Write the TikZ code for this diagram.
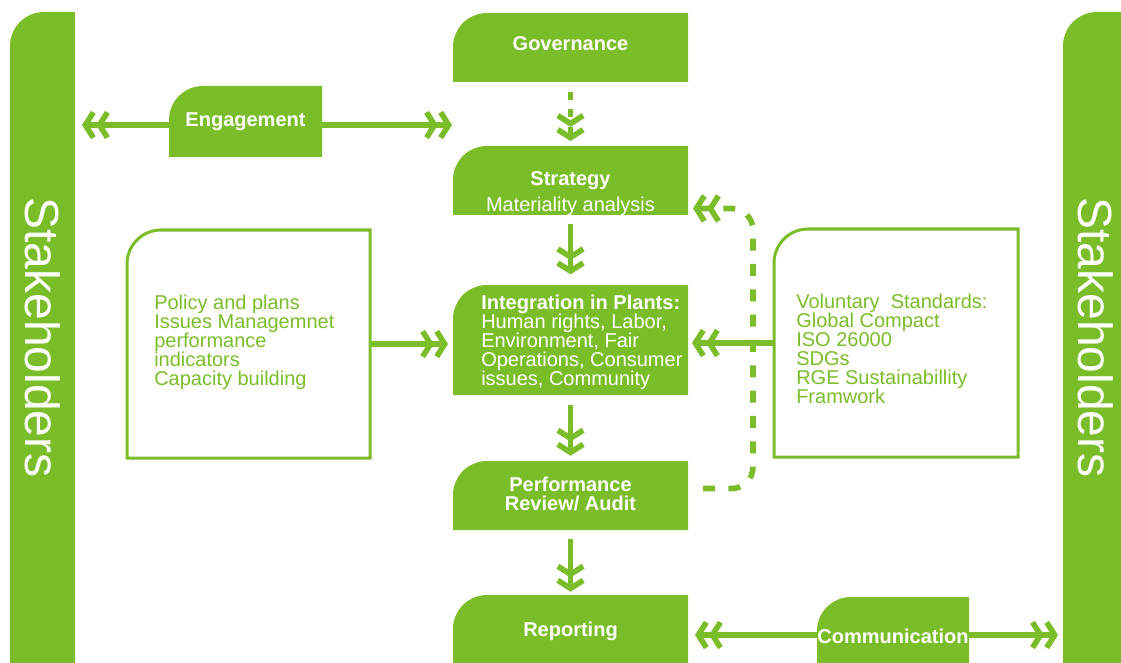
\documentclass[tikz,border=0pt]{standalone}
\usepackage{fontspec}
\setmainfont{Liberation Sans}
\usetikzlibrary{arrows.meta,fit,backgrounds}
\definecolor{leaf}{RGB}{123,189,41}
\tikzset{
	area/.style={inner sep=0pt, outer sep=0pt},
	wtext/.style={text=white, inner sep=0pt, align=center, font=\fontsize{15}{14.25}\selectfont},
	wbold/.style={wtext, font=\fontsize{15}{14.25}\selectfont\bfseries},
	gtext/.style={text=leaf, inner sep=0pt, align=left, anchor=west, font=\fontsize{15}{14.25}\selectfont},
	side/.style={text=white, inner sep=0pt, rotate=-90, font=\fontsize{36}{36}\selectfont},
	link/.style={leaf, line width=4.2pt},
	dbl/.style={-{Straight Barb[length=6pt,width=19pt]Straight Barb[length=6pt,width=19pt]}},
	dots/.style={dash pattern=on 6pt off 7pt},
}
\begin{document}
\begin{tikzpicture}[x=0.75pt, y=-0.75pt]
	\useasboundingbox (0,0) rectangle (1121,663);
	% areas
	\node[area, fit={(10,12) (75,663)}] (lsh) {};
	\node[area, fit={(1063,12) (1121,663)}] (rsh) {};
	\node[area, fit={(453,13) (688,82)}] (gov) {};
	\node[area, fit={(169,86) (322,157)}] (eng) {};
	\node[area, fit={(453,146) (688,215)}] (str) {};
	\node[area, fit={(453,285) (688,395)}] (int) {};
	\node[area, fit={(453,461) (688,530)}] (per) {};
	\node[area, fit={(453,595) (688,663)}] (rep) {};
	\node[area, fit={(817,597) (969,663)}] (com) {};
	\node[area, fit={(127,230) (370,458)}] (pol) {};
	\node[area, fit={(774,229) (1018,457)}] (vol) {};
	\begin{scope}[on background layer]
		\foreach \b in {lsh,rsh,gov,eng,str,int,per,rep,com}
			\fill[leaf] (\b.south west) -- ([yshift=-25.5pt]\b.north west) arc[start angle=180, end angle=270, radius=34] -- (\b.north east) -- (\b.south east) -- cycle;
		\foreach \b in {pol,vol}
			\draw[leaf, line width=2.25pt, fill=white] (\b.south west) -- ([yshift=-25.5pt]\b.north west) arc[start angle=180, end angle=270, radius=34] -- (\b.north east) -- (\b.south east) -- cycle;
	\end{scope}
	% texts
	\node[side] (lshtxt) at (lsh.center) {Stakeholders};
	\node[side] (rshtxt) at ([xshift=3pt]rsh.center) {Stakeholders};
	\node[wbold] (govtxt) at ([yshift=3pt]gov.center) {Governance};
	\node[wbold] (engtxt) at (eng.center) {Engagement};
	\node[wtext] (strtxt) at ([yshift=-10pt]str.center) {\textbf{Strategy}\\[5.25pt]Materiality analysis};
	\node[wtext, align=left, anchor=west] (inttxt) at ([xshift=21pt, yshift=-1.4pt]int.west) {\textbf{Integration in Plants:}\\Human rights, Labor,\\Environment, Fair\\Operations, Consumer\\issues, Community};
	\node[wbold] (pertxt) at ([yshift=0.8pt]per.center) {Performance\\Review/ Audit};
	\node[wbold] (reptxt) at ([yshift=-2pt]rep.center) {Reporting};
	\node[wbold] (comtxt) at ([yshift=-4.5pt]com.center) {Communication};
	\node[gtext] (poltxt) at ([xshift=20.25pt, yshift=1.6pt]pol.west) {Policy and plans\\Issues Managemnet\\performance\\indicators\\Capacity building};
	\node[gtext] (voltxt) at ([xshift=16.5pt, yshift=-4.5pt]vol.west) {Voluntary~ Standards:\\Global Compact\\ISO 26000\\SDGs\\RGE Sustainabillity\\Framwork};
	% links
	\coordinate (engL) at (82,125);
	\coordinate (engR) at (452,125);
	\draw[link, dbl] (engL -| eng.west) -- (engL);
	\draw[link, dbl] (engR -| eng.east) -- (engR);
	\draw[link, dbl, dots, shorten <=7.5pt, shorten >=3.75pt] (gov) -- (str);
	\draw[link, dbl, shorten <=6.75pt, shorten >=8pt] (str) -- (int);
	\draw[link, dbl, shorten <=7.5pt, shorten >=4pt] (int) -- (per);
	\draw[link, dbl, shorten <=6.75pt, shorten >=2.5pt] (per) -- (rep);
	\draw[link, dbl, shorten >=3.75pt] (pol.east) -- (pol.east -| int.west);
	\draw[link, dbl, shorten >=3pt] (vol.west) -- (vol.west -| int.east);
	\coordinate (comL) at (695,635);
	\coordinate (comR) at (1058,635);
	\draw[link, dbl] (comL -| com.west) -- (comL);
	\draw[link, dbl] (comR -| com.east) -- (comR);
	\coordinate (fbA) at ([shift={(15,-7)}]per.east);
	\coordinate (fbB) at ([shift={(5,28)}]str.east);
	\draw[link, dbl, dash pattern=on 9pt off 10pt, rounded corners=16pt] (fbA) -- ++(50,0) |- (fbB);
\end{tikzpicture}
\end{document}
